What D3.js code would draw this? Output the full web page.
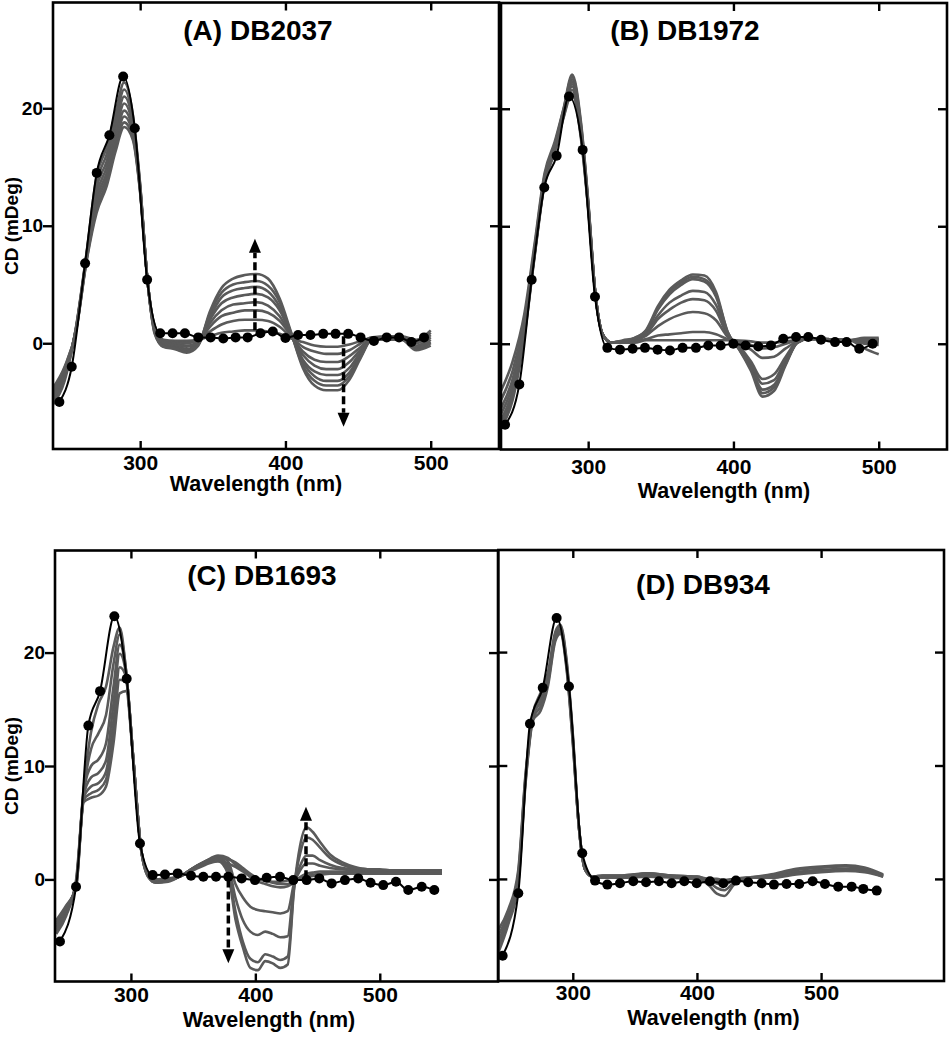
<!DOCTYPE html>
<html><head><meta charset="utf-8">
<script src="https://cdn.jsdelivr.net/npm/d3@7"></script>
<style>body{margin:0;background:#fff}svg{display:block}</style>
</head><body>
<script>
// ---------------- DATA ----------------
const xTicks = [300, 400, 500];
const yTicks = [0, 10, 20];
const yDomain = [-9, 29];

// Panel A / B wavelength grid for titration curves
const gridAB = [240,248,256,263,270,277,283,289,295,300,305,310,316,324,332,340,348,356,364,372,380,388,396,404,412,420,428,436,444,452,460,470,480,490,500];

const grayA = [
 [-5.2,-3.2,1.5,7.6,14.2,16.7,19.6,22.2,19.4,13.5,5.4,1.5,0.3,0.2,0.2,0.3,0.6,0.9,1.0,1.1,1.1,1.0,0.8,0.4,0.1,-0.2,-0.3,-0.3,-0.1,0.2,0.5,0.6,0.6,0.3,1.1],
 [-5.0,-3.0,1.4,7.5,13.7,16.1,19.0,21.6,19.0,13.4,5.4,1.4,0.2,0.1,0.0,0.2,1.0,1.6,1.9,2.0,2.0,1.9,1.4,0.5,-0.3,-0.7,-0.9,-0.9,-0.6,0.0,0.5,0.5,0.5,0.1,0.9],
 [-4.8,-2.8,1.4,7.4,13.2,15.5,18.4,21.0,18.7,13.3,5.4,1.3,0.1,0.0,-0.2,0.1,1.4,2.3,2.6,2.8,2.8,2.6,1.9,0.6,-0.7,-1.4,-1.6,-1.6,-1.1,-0.3,0.4,0.5,0.5,0.0,0.7],
 [-4.6,-2.6,1.3,7.3,12.7,15.0,17.9,20.4,18.4,13.2,5.4,1.2,0.0,-0.1,-0.3,0.0,1.7,2.8,3.3,3.4,3.5,3.2,2.3,0.6,-1.0,-1.9,-2.2,-2.2,-1.6,-0.5,0.4,0.4,0.4,-0.2,0.5],
 [-4.4,-2.5,1.3,7.2,12.3,14.5,17.4,19.8,18.1,13.1,5.4,1.1,-0.1,-0.2,-0.5,0.0,2.0,3.4,3.9,4.1,4.2,3.9,2.8,0.7,-1.4,-2.4,-2.7,-2.7,-2.1,-0.7,0.4,0.4,0.4,-0.3,0.3],
 [-4.2,-2.3,1.2,7.1,11.9,14.1,17.0,19.3,17.8,13.0,5.4,1.0,-0.2,-0.3,-0.6,-0.1,2.2,3.9,4.5,4.7,4.8,4.4,3.1,0.8,-1.6,-2.8,-3.2,-3.2,-2.5,-0.9,0.4,0.3,0.4,-0.4,0.1],
 [-4.0,-2.1,1.2,7.0,11.5,13.7,16.6,18.8,17.5,12.9,5.4,0.9,-0.3,-0.4,-0.7,-0.1,2.5,4.3,5.0,5.2,5.3,4.9,3.5,0.8,-1.9,-3.2,-3.6,-3.6,-2.8,-1.1,0.4,0.3,0.3,-0.5,0.0],
 [-3.8,-2.0,1.1,6.9,11.1,13.4,16.3,18.4,17.3,12.8,5.4,0.8,-0.3,-0.5,-0.8,-0.2,2.7,4.7,5.5,5.8,5.9,5.5,3.8,0.9,-2.1,-3.6,-4.0,-4.0,-3.1,-1.2,0.4,0.3,0.3,-0.6,-0.2]
];
const dotsA_wl = [244.4,252.9,262.1,270.1,278.8,288.3,296.3,304.8,313.8,322.3,330.8,340.0,348.5,357.2,365.7,374.0,382.8,391.3,400.0,408.7,417.2,426.0,434.5,443.2,451.7,460.9,469.7,478.2,486.7,495.4];
const dotsA_val = [-5.0,-2.0,6.8,14.5,17.7,22.7,18.3,5.4,0.85,0.85,0.85,0.5,0.5,0.4,0.5,0.5,0.85,1.0,0.45,0.7,0.7,0.8,0.8,0.8,0.5,0.2,0.5,0.5,0.1,0.5];

const grayB = [
 [-7.2,-4.8,0.5,7.3,13.6,16.3,19.2,21.3,17.5,11.5,4.2,0.8,0.1,0.1,0.1,0.3,0.3,0.3,0.3,0.3,0.3,0.3,0.3,0.27,0.2,0.1,0.1,0.2,0.3,0.4,0.4,0.35,0.3,0.5,0.5],
 [-7.0,-4.5,0.7,7.4,13.7,16.4,19.3,21.6,17.7,11.6,4.2,0.8,0.1,0.1,0.2,0.4,0.7,0.8,0.9,1.0,1.0,0.8,0.4,0.2,-0.1,-0.4,-0.3,0.0,0.3,0.4,0.4,0.35,0.3,0.4,0.4],
 [-6.8,-4.3,0.9,7.5,13.8,16.5,19.5,21.9,17.9,11.7,4.2,0.8,0.1,0.2,0.3,0.7,1.5,2.1,2.5,2.7,2.6,2.0,0.6,0.0,-0.5,-1.2,-1.1,-0.4,0.2,0.4,0.4,0.35,0.3,0.3,0.4],
 [-6.5,-4.0,1.1,7.6,13.9,16.6,19.6,22.1,18.1,11.8,4.2,0.8,0.1,0.2,0.3,0.8,2.1,2.9,3.5,3.8,3.7,2.8,0.7,-0.2,-1.5,-3.0,-2.6,-1.1,0.2,0.4,0.4,0.35,0.3,0.3,0.3],
 [-6.0,-3.5,1.3,7.7,14.0,16.7,19.7,22.3,18.3,11.9,4.2,0.8,0.1,0.2,0.4,0.9,2.4,3.5,4.1,4.5,4.4,3.3,0.8,-0.3,-1.7,-3.4,-3.1,-1.3,0.1,0.4,0.4,0.35,0.3,0.2,0.2],
 [-5.5,-3.0,1.6,7.9,14.1,16.8,19.8,22.5,18.5,12.0,4.2,0.8,0.1,0.2,0.4,1.1,2.9,4.2,5.0,5.5,5.3,4.0,0.9,-0.4,-2.0,-3.9,-3.5,-1.6,0.1,0.4,0.4,0.35,0.3,0.1,0.1],
 [-4.8,-2.3,2.0,8.1,14.3,17.0,19.9,22.7,18.7,12.1,4.2,0.8,0.1,0.2,0.5,1.1,3.0,4.4,5.2,5.7,5.5,4.2,1.0,-0.5,-2.1,-4.2,-3.7,-1.7,0.1,0.4,0.4,0.35,0.3,0.0,-0.1],
 [-4.0,-1.5,2.5,8.4,14.5,17.2,20.0,22.9,18.9,12.2,4.2,0.8,0.1,0.3,0.5,1.2,3.2,4.6,5.4,5.9,5.8,4.4,1.0,-0.5,-2.3,-4.5,-4.0,-1.8,0.1,0.4,0.4,0.35,0.3,-0.4,-0.9]
];
const dotsB_wl = [242.8,252.6,261.1,269.8,278.3,286.8,296.2,304.7,313.2,321.9,330.6,339.1,347.8,356.3,365.0,374.2,382.7,391.2,399.9,408.4,417.1,425.8,434.3,443.1,451.5,460.3,469.9,477.9,486.6,495.8];
const dotsB_val = [-6.9,-3.46,5.45,13.3,16.0,21.05,16.5,4.0,-0.35,-0.5,-0.43,-0.35,-0.5,-0.57,-0.35,-0.35,-0.15,-0.15,0,-0.15,-0.23,-0.15,0.43,0.57,0.57,0.34,0.14,0.14,-0.43,0];

// Panel C
const gridC = [240,248,256,262,268,274,280,286,291,296,302,308,314,320,330,340,350,360,370,378,384,390,396,402,408,414,420,426,431,436,441,446,452,460,470,480,490,500,510,520,530,540,550];
const grayC = [
 [-4.8,-3.2,0.0,8.0,13.0,15.5,17.0,20.5,22.2,18.5,10.5,2.8,0.5,0.0,0.1,0.3,0.9,1.4,1.6,1.4,1.1,0.7,0.3,0.0,-0.1,-0.2,-0.2,-0.1,0.0,0.1,0.2,0.3,0.4,0.5,0.5,0.5,0.5,0.5,0.5,0.5,0.5,0.5,0.5],
 [-4.6,-3.0,-0.2,7.8,11.5,12.9,14.5,19.0,21.6,18.5,10.5,2.8,0.4,-0.1,0.0,0.3,1.0,1.6,2.0,1.8,1.5,1.0,0.5,0.1,-0.1,-0.3,-0.4,-0.4,-0.2,0.1,0.3,0.4,0.5,0.6,0.6,0.6,0.6,0.6,0.6,0.6,0.6,0.6,0.6],
 [-4.4,-2.8,-0.3,7.6,10.0,10.6,12.0,17.0,20.7,18.4,10.5,2.8,0.4,-0.1,0.0,0.3,1.0,1.6,2.1,1.9,1.3,0.8,0.2,-0.2,-0.4,-0.6,-0.7,-0.6,-0.3,0.2,0.5,0.6,0.7,0.7,0.7,0.7,0.7,0.7,0.7,0.7,0.7,0.7,0.7],
 [-4.2,-2.6,-0.4,7.4,9.0,9.4,10.5,15.5,19.9,18.2,10.5,2.8,0.3,-0.2,-0.1,0.3,1.0,1.6,2.0,1.6,-0.4,-1.6,-2.4,-2.7,-2.8,-2.9,-3.0,-2.8,-0.4,0.8,1.4,1.4,1.2,1.0,0.9,0.8,0.8,0.8,0.8,0.8,0.8,0.8,0.8],
 [-4.0,-2.5,-0.5,7.2,8.2,8.5,9.5,14.0,18.7,17.9,10.5,2.8,0.3,-0.2,-0.1,0.3,1.0,1.5,1.9,1.2,-1.6,-3.6,-4.6,-4.9,-4.6,-4.8,-5.1,-5.0,-0.6,1.2,2.1,2.1,1.7,1.3,1.0,0.9,0.8,0.8,0.8,0.8,0.8,0.8,0.8],
 [-3.8,-2.4,-0.6,7.0,7.6,7.9,8.8,13.0,17.6,17.4,10.5,2.8,0.2,-0.3,-0.1,0.3,0.9,1.4,1.8,0.8,-2.8,-5.5,-7.0,-7.3,-6.6,-6.8,-7.1,-6.8,-0.8,2.3,3.7,3.5,2.8,1.9,1.3,1.0,0.9,0.8,0.8,0.8,0.8,0.8,0.8],
 [-3.6,-2.3,-0.7,6.8,7.2,7.4,8.2,12.0,16.4,16.6,10.4,2.8,0.2,-0.3,-0.2,0.3,0.8,1.3,1.6,0.5,-3.5,-6.0,-7.8,-8.0,-7.2,-7.4,-7.8,-7.5,-1.0,3.0,4.6,4.2,3.3,2.2,1.5,1.1,0.9,0.9,0.8,0.8,0.8,0.7,0.7]
];
const dotsC_wl = [243.0,255.9,265.8,275.2,286.7,296.6,307.3,317.5,327.4,337.6,348.3,358.2,368.4,378.3,389.0,399.7,409.1,419.8,430.5,441.2,451.4,461.3,472.0,482.7,492.6,502.8,513.0,522.9,533.7,543.8];
const dotsC_val = [-5.48,-0.65,13.56,16.6,23.2,17.7,3.16,0.38,0.44,0.53,0.32,0.23,0.23,0.23,0.09,-0.06,0.14,0.23,-0.06,-0.06,0.09,-0.35,-0.06,0.09,-0.3,-0.5,-0.21,-0.94,-0.65,-0.94];

// Panel D
const gridD = [240,248,256,262,268,274,280,286,290,295,300,305,310,316,324,340,360,380,400,410,416,422,430,440,460,480,500,520,535,550];
const grayD = [
 [-6.5,-4.0,-0.5,8.5,14.0,14.8,17.0,21.0,21.6,18.5,12.0,4.5,0.8,0.2,0.1,0.1,0.2,0.1,0.0,-0.6,-1.3,-1.5,-0.5,0.0,0.4,0.9,1.1,1.2,1.0,0.4],
 [-6.0,-3.6,-0.2,8.7,14.2,15.2,17.3,21.2,21.8,18.7,12.2,4.5,0.8,0.2,0.2,0.2,0.3,0.2,0.1,-0.3,-0.8,-1.0,-0.3,0.1,0.3,0.8,1.0,1.1,0.9,0.3],
 [-5.5,-3.3,0.1,8.9,14.4,15.6,17.6,21.4,22.0,18.9,12.4,4.5,0.8,0.2,0.2,0.2,0.4,0.2,0.1,-0.2,-0.4,-0.5,-0.1,0.1,0.2,0.6,0.8,0.9,0.8,0.3],
 [-5.0,-3.0,0.4,9.1,14.5,16.0,17.9,21.6,22.2,19.1,12.6,4.5,0.8,0.2,0.3,0.3,0.5,0.3,0.2,-0.1,-0.2,-0.2,0.0,0.1,0.1,0.5,0.7,0.8,0.7,0.2],
 [-4.5,-2.7,0.7,9.3,14.6,16.4,18.2,21.8,22.4,19.3,12.8,4.5,0.8,0.2,0.3,0.3,0.5,0.3,0.2,0.0,0.0,-0.1,0.0,0.1,0.1,0.4,0.6,0.7,0.6,0.2]
];
const dotsD_wl = [243.5,256.1,265.5,275.8,287.0,296.9,307.6,317.9,327.8,338.0,348.7,359.0,369.4,379.6,389.8,399.8,410.5,421.2,431.4,441.3,452.1,462.0,472.2,482.4,493.2,503.1,513.8,524.6,534.0,544.8];
const dotsD_val = [-6.77,-1.27,13.68,16.86,23.0,16.97,2.26,-0.15,-0.5,-0.38,-0.21,-0.3,-0.21,-0.38,-0.21,-0.38,-0.21,-0.38,-0.15,-0.3,-0.38,-0.5,-0.44,-0.44,-0.21,-0.44,-0.68,-0.68,-0.88,-1.03];

// Titration arrows: [wavelength, from, to]
const arrowsA = [[379, 1.1, 8.9], [440, 0.6, -7.1]];
const arrowsC = [[378.3, 0.0, -7.4], [440.7, 0.1, 6.4]];

const titles = ['(A) DB2037', '(B) DB1972', '(C) DB1693', '(D) DB934'];
const xLabel = 'Wavelength (nm)';
const yLabel = 'CD (mDeg)';

// ---------------- LAYOUT ----------------
const FONT = "'Liberation Sans', Arial, Helvetica, sans-serif";
const GRAY = '#5a5a5a';
const W = 951, H = 1050;
const svg = d3.select('body').append('svg').attr('width', W).attr('height', H)
  .style('font-family', FONT);

const panels = [
  {title: titles[0], grid: gridAB, gray: grayA, dw: dotsA_wl, dv: dotsA_val, arrows: arrowsA,
   xd: [240, 547], xr: [53, 499], yr: [449, 2.5], left: true,
   tX: 258, tY: 40, xlX: 256, xlY: 491, tickY: 470, ylY: 226},
  {title: titles[1], grid: gridAB, gray: grayB, dw: dotsB_wl, dv: dotsB_val, arrows: [],
   xd: [240, 547], xr: [501, 947], yr: [449.5, 3], left: false,
   tX: 685, tY: 40, xlX: 724, xlY: 498, tickY: 474},
  {title: titles[2], grid: gridC, gray: grayC, dw: dotsC_wl, dv: dotsC_val, arrows: arrowsC,
   xd: [239, 595], xr: [55, 498], yr: [981.5, 550.5], left: true,
   tX: 262, tY: 585, xlX: 269, xlY: 1027, tickY: 1002, ylY: 766},
  {title: titles[3], grid: gridD, gray: grayD, dw: dotsD_wl, dv: dotsD_val, arrows: [],
   xd: [240, 599], xr: [498.3, 944], yr: [981, 550], left: false,
   tX: 703, tY: 594, xlX: 713.5, xlY: 1025, tickY: 1000.5}
];

panels.forEach(p => {
  const x = d3.scaleLinear().domain(p.xd).range(p.xr);
  const y = d3.scaleLinear().domain(yDomain).range(p.yr);
  const g = svg.append('g');
  const x0 = p.xr[0], x1 = p.xr[1], yT = p.yr[1], yB = p.yr[0];

  // gray titration curves
  const line = d3.line().x((d, i) => x(p.grid[i])).y(d => y(d)).curve(d3.curveMonotoneX);
  g.selectAll('path.gray').data(p.gray).join('path')
    .attr('class', 'gray').attr('d', line)
    .attr('fill', 'none').attr('stroke', GRAY).attr('stroke-width', 2.6)
    .attr('stroke-linejoin', 'round');

  // black free-DNA curve with dots
  const pts = p.dw.map((w, i) => [w, p.dv[i]]);
  const bl = d3.line().x(d => x(d[0])).y(d => y(d[1])).curve(d3.curveMonotoneX);
  g.append('path').attr('d', bl(pts)).attr('fill', 'none').attr('stroke', '#000').attr('stroke-width', 2);
  g.selectAll('circle').data(pts).join('circle')
    .attr('cx', d => x(d[0])).attr('cy', d => y(d[1])).attr('r', 5).attr('fill', '#000');

  // arrows
  p.arrows.forEach(a => {
    const ax = x(a[0]), ay0 = y(a[1]), ay1 = y(a[2]);
    const dir = ay1 < ay0 ? -1 : 1;
    const headH = 14, headW = 6;
    g.append('line').attr('x1', ax).attr('x2', ax).attr('y1', ay0).attr('y2', ay1 - dir * headH)
      .attr('stroke', '#000').attr('stroke-width', 3.5).attr('stroke-dasharray', '8,4');
    g.append('path')
      .attr('d', `M${ax},${ay1} L${ax - headW},${ay1 - dir * headH} L${ax + headW},${ay1 - dir * headH} Z`)
      .attr('fill', '#000');
  });

  // frame
  g.append('rect').attr('x', x0).attr('y', yT).attr('width', x1 - x0).attr('height', yB - yT)
    .attr('fill', 'none').attr('stroke', '#000').attr('stroke-width', 2.6);

  const styleAxis = (sel, fs) => {
    sel.select('.domain').remove();
    sel.selectAll('.tick line').attr('stroke', '#000').attr('stroke-width', 2.4);
    sel.selectAll('.tick text').attr('fill', '#000').style('font-family', FONT)
      .style('font-size', fs || '21px').style('font-weight', 'bold');
  };

  // bottom axis (ticks inward, labels below)
  g.append('g').attr('transform', `translate(0,${yB})`)
    .call(d3.axisBottom(x).tickValues(xTicks).tickSize(-8).tickPadding(p.tickY - yB - 15))
    .call(styleAxis);
  // top axis (ticks inward)
  g.append('g').attr('transform', `translate(0,${yT})`)
    .call(d3.axisTop(x).tickValues(xTicks).tickSize(-8).tickFormat(''))
    .call(styleAxis);
  // left axis
  if (p.left) {
    g.append('g').attr('transform', `translate(${x0},0)`)
      .call(d3.axisLeft(y).tickValues(yTicks).tickSize(10).tickPadding(0))
      .call(sel => styleAxis(sel, '19px'));
  } else {
    g.append('g').attr('transform', `translate(${x0},0)`)
      .call(d3.axisLeft(y).tickValues(yTicks).tickSize(-9).tickFormat(''))
      .call(styleAxis);
  }
  // right axis (ticks inward)
  g.append('g').attr('transform', `translate(${x1},0)`)
    .call(d3.axisRight(y).tickValues(yTicks).tickSize(-9).tickFormat(''))
    .call(styleAxis);

  // titles & labels
  g.append('text').attr('x', p.tX).attr('y', p.tY).attr('text-anchor', 'middle')
    .style('font-size', '28px').style('font-weight', 'bold').text(p.title);
  g.append('text').attr('x', p.xlX).attr('y', p.xlY).attr('text-anchor', 'middle')
    .style('font-size', '21.5px').style('font-weight', 'bold').text(xLabel);
  if (p.left) {
    g.append('text').attr('transform', `translate(18,${p.ylY}) rotate(-90)`)
      .attr('text-anchor', 'middle')
      .style('font-size', '19px').style('font-weight', 'bold').text(yLabel);
  }
});
</script>
</body></html>
